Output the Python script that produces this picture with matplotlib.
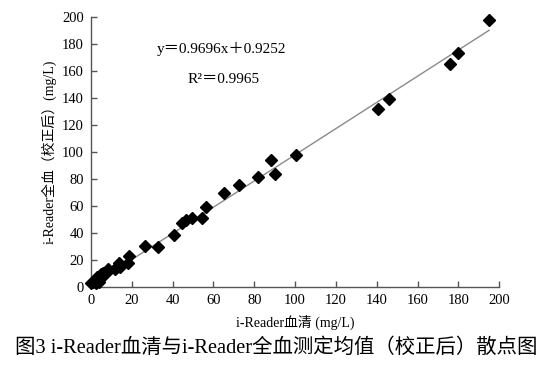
import matplotlib
matplotlib.use("Agg")
import matplotlib.pyplot as plt
import numpy as np

serum = [0.0, 0.8, 2.0, 2.5, 2.8, 4.1, 4.8, 4.8, 6.0, 7.7, 8.5, 11.8, 12.9, 13.9, 14.2,
         18.3, 18.8, 26.5, 32.7, 40.7, 44.5, 46.6, 49.4, 54.4, 56.4, 65.3, 72.7, 81.7,
         88.2, 90.2, 100.5, 140.8, 146.1, 175.8, 179.6, 195.1]
whole = [3.2, 3.9, 5.2, 3.2, 7.6, 3.9, 6.9, 9.6, 10.6, 11.3, 13.1, 13.1, 15.0, 17.6, 14.6,
         18.0, 23.0, 30.4, 29.9, 38.5, 47.6, 49.6, 51.3, 50.9, 59.5, 69.9, 75.6, 81.3,
         94.0, 83.7, 97.8, 131.6, 139.0, 165.0, 173.1, 197.6]
slope = 0.9696
intercept = 0.9252
r2 = 0.9965
ticks = [0, 20, 40, 60, 80, 100, 120, 140, 160, 180, 200]

serif = ['Liberation Serif', 'Noto Sans CJK SC']

fig = plt.figure(figsize=(5.53, 3.67), dpi=100)
ax = fig.add_axes([0.1646, 0.218, 0.738, 0.736])

xs = np.array([0, max(serum)])
ax.plot(xs, slope * xs + intercept, color='#8a8a8a', lw=1.0, zorder=1)
ax.plot(serum, whole, linestyle='none', marker='D', ms=6.3, color='black', zorder=3,
        clip_on=False)

ax.set_xlim(0, 200)
ax.set_ylim(0, 200)
ax.set_xticks(ticks)
ax.set_yticks(ticks)
for s in ['top', 'right']:
    ax.spines[s].set_visible(False)
for s in ['left', 'bottom']:
    ax.spines[s].set_color('#555555')
    ax.spines[s].set_linewidth(1.0)
ax.tick_params(direction='in', length=4, width=1, color='#555555', labelsize=10.5,
               pad=5)
for lab in ax.get_xticklabels() + ax.get_yticklabels():
    lab.set_family(serif)

ax.text(0.32, 0.880, 'y＝0.9696x＋0.9252', transform=ax.transAxes, ha='center',
        va='center', fontsize=11, family=serif)
ax.text(0.325, 0.770, 'R²＝%.4f' % r2, transform=ax.transAxes, ha='center',
        va='center', fontsize=11, family=serif)

ax.set_xlabel('i-Reader血清 (mg/L)', family=serif, fontsize=10, labelpad=6)
ax.set_ylabel('i-Reader全血（校正后）(mg/L)', family=serif, fontsize=10, labelpad=4)

fig.text(0.5, 0.051, '图3 i-Reader血清与i-Reader全血测定均值（校正后）散点图',
         ha='center', va='center', fontsize=14.7, family=serif)

fig.savefig('out.png', dpi=100, facecolor='white')
